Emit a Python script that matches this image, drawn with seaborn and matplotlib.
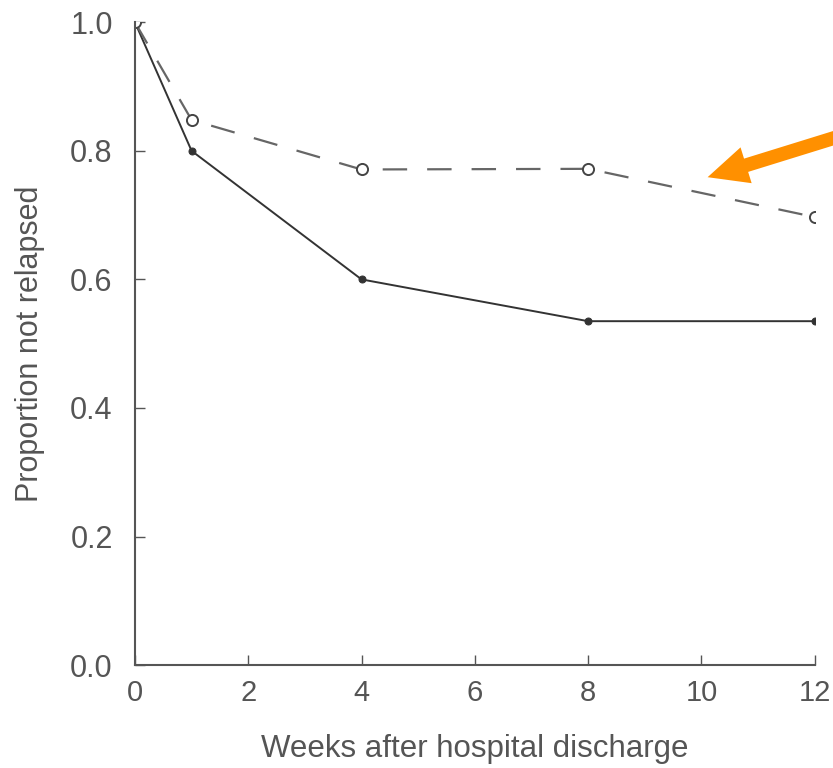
import matplotlib
matplotlib.use("Agg")
import matplotlib.pyplot as plt
import seaborn as sns
import pandas as pd

weeks = [0, 1, 4, 8, 12]
solid_vals = [1.0, 0.80, 0.60, 0.535, 0.535]
dashed_vals = [1.0, 0.848, 0.771, 0.772, 0.697]
x_ticks = [0, 2, 4, 6, 8, 10, 12]
y_ticks = [0.0, 0.2, 0.4, 0.6, 0.8, 1.0]

df = pd.DataFrame({
    "week": weeks * 2,
    "prop": solid_vals + dashed_vals,
    "group": ["solid"] * len(weeks) + ["dashed"] * len(weeks),
})

sns.set_style("ticks")
plt.rcParams['font.family'] = ['Liberation Sans', 'DejaVu Sans']

fig = plt.figure(figsize=(8.33, 7.68), dpi=100)
ax = fig.add_axes([0.162, 0.134, 0.816, 0.837])

sns.lineplot(data=df[df.group == "solid"], x="week", y="prop", ax=ax,
             color="#333333", linewidth=1.4, marker="o", markersize=5,
             markeredgecolor="#333333", legend=False)
sns.lineplot(data=df[df.group == "dashed"], x="week", y="prop", ax=ax,
             color="#666666", linewidth=1.6, marker="o", markersize=8,
             markerfacecolor="white", markeredgecolor="#444444",
             markeredgewidth=1.4, dashes=False, legend=False)
ax.lines[-1].set_dashes([11, 9])

ax.set_xlim(0, 12)
ax.set_ylim(0, 1.0)
ax.set_xticks(x_ticks)
ax.set_yticks(y_ticks)
ax.set_xticklabels([str(t) for t in x_ticks])
ax.set_yticklabels([f"{t:.1f}" for t in y_ticks])
ax.tick_params(direction="in", length=7, width=1, color="#555555",
               labelcolor="#555555")
ax.tick_params(axis="x", labelsize=21, pad=10)
ax.tick_params(axis="y", labelsize=22, pad=16)
for s in ["top", "right"]:
    ax.spines[s].set_visible(False)
for s in ["left", "bottom"]:
    ax.spines[s].set_color("#555555")
    ax.spines[s].set_linewidth(1.5)
ax.set_xlabel("Weeks after hospital discharge", fontsize=22.5, color="#555555",
              va="center")
ax.set_ylabel("Proportion not relapsed", fontsize=22, color="#555555",
              va="center")
ax.xaxis.set_label_coords(0.5, -0.131)
ax.yaxis.set_label_coords(-0.154, 0.5)

ax.annotate("", xy=(10.11, 0.759), xytext=(12.49, 0.824),
            arrowprops=dict(arrowstyle="simple,head_length=1.45,head_width=1.35,tail_width=0.5",
                            mutation_scale=20, color="#FF9000", lw=0,
                            shrinkA=0, shrinkB=0),
            annotation_clip=False)

fig.savefig("out.png", dpi=100)
